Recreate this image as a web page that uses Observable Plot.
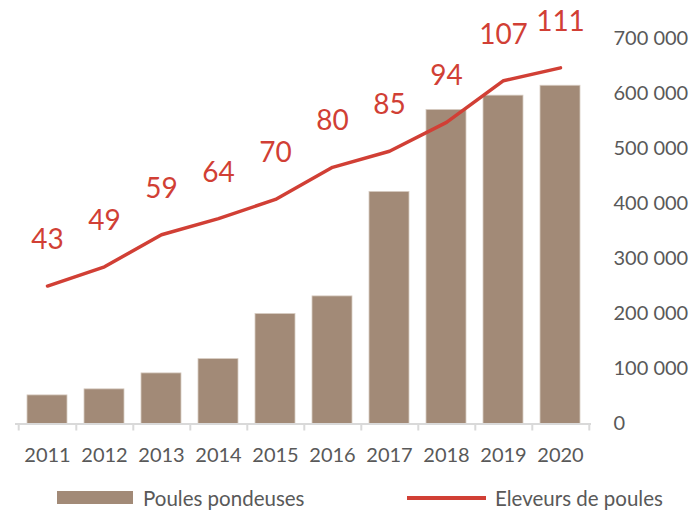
<!DOCTYPE html>
<html>
<head>
<meta charset="utf-8">
<script src="https://cdn.jsdelivr.net/npm/d3@7"></script>
<script src="https://cdn.jsdelivr.net/npm/@observablehq/plot@0.6"></script>
<style>
  body { margin: 0; background: white; font-family: Lato, "Open Sans", sans-serif; }
  #wrap { position: relative; width: 695px; height: 515px; }
  #legend { position: relative; width: 695px; height: 35px; color: #595959; font-size: 20.5px; }
  .item { position: absolute; top: 0; height: 35px; display: flex; align-items: center; }
  .sw-bar { width: 76px; height: 13px; background: #A28A77; margin-right: 10px; }
  .sw-line { width: 79px; height: 4px; background: #D13F35; margin-right: 9px; }
</style>
</head>
<body>
<div id="wrap"><div id="chart"></div>
<div id="legend">
  <div class="item" style="left:57px"><div class="sw-bar"></div><span>Poules pondeuses</span></div>
  <div class="item" style="left:407px"><div class="sw-line"></div><span>Eleveurs de poules</span></div>
</div>
</div>
<script>
const years = ["2011","2012","2013","2014","2015","2016","2017","2018","2019","2020"];
const poulesPondeuses = [52000, 63000, 92000, 118000, 200000, 232000, 422000, 571000, 597000, 615000];
const eleveurs = [43, 49, 59, 64, 70, 80, 85, 94, 107, 111];
const yTicks = [0, 100000, 200000, 300000, 400000, 500000, 600000, 700000];
const secondaryMax = 120;
const primaryMax = 700000;

const factor = primaryMax / secondaryMax;
const data = years.map((y, i) => ({year: y, poules: poulesPondeuses[i], eleveurs: eleveurs[i]}));

const W = 695, H = 480, mL = 15, mR = 104;
const step = (W - mL - mR) / years.length;
const fmt = d => d3.format(",")(d).replace(/,/g, " ");

const chart = Plot.plot({
  width: W,
  height: H,
  marginLeft: mL,
  marginRight: mR,
  marginTop: 38.5,
  marginBottom: 56.5,
  style: {fontFamily: "Lato, 'Open Sans', sans-serif", fontSize: "20px", color: "#595959", background: "white"},
  x: {domain: years, paddingInner: 0.3, paddingOuter: 0.15, label: null},
  y: {domain: [0, primaryMax], label: null},
  marks: [
    Plot.barY(data, {x: "year", y: "poules", fill: "#A28A77", stroke: "#D8CCC2", strokeWidth: 0.8}),
    Plot.ruleY([0], {stroke: "#D9D9D9", strokeWidth: 2}),
    Plot.ruleX(data, {x: "year", y1: 0, y2: 0, insetTop: 7, dx: step / 2, stroke: "#D9D9D9", strokeWidth: 2}),
    Plot.ruleX([years[0]], {x: d => d, y1: 0, y2: 0, insetTop: 7, dx: -step / 2, stroke: "#D9D9D9", strokeWidth: 2}),
    Plot.line(data, {x: "year", y: d => d.eleveurs * factor, stroke: "#D13F35", strokeWidth: 3.5}),
    Plot.text(data, {x: "year", y: d => d.eleveurs * factor, text: d => String(d.eleveurs), dy: -46, fill: "#D13F35", fontSize: 28}),
    Plot.axisX({tickSize: 0, tickPadding: 24, label: null, fill: "#595959"}),
    Plot.axisY({anchor: "right", ticks: yTicks, tickFormat: fmt, tickSize: 0, tickPadding: 22, label: null, fill: "#595959"})
  ]
});
document.getElementById("chart").appendChild(chart);
</script>
</body>
</html>
